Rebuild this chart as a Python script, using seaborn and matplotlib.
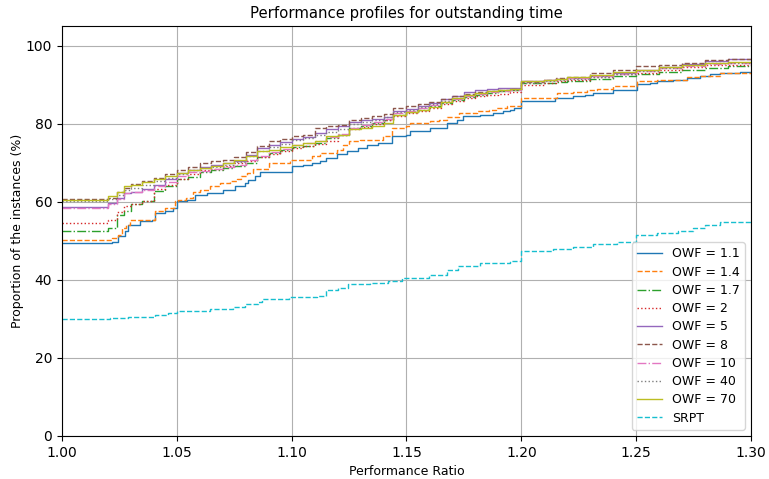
import matplotlib
matplotlib.use("Agg")
import matplotlib.pyplot as plt
import seaborn as sns
import pandas as pd

# ---- data -------------------------------------------------------------
blue_x = [1.000, 1.0216, 1.0244, 1.0274, 1.0289, 1.034, 1.039, 1.0405, 1.0448, 1.0484,
          1.050, 1.0543, 1.058, 1.063, 1.070, 1.0753, 1.0797, 1.081, 1.084, 1.086,
          1.100, 1.105, 1.1087, 1.1124, 1.115, 1.1196, 1.124, 1.129, 1.133, 1.1376,
          1.1435, 1.150, 1.1515, 1.1603, 1.1675, 1.172, 1.1746, 1.182, 1.1877, 1.192,
          1.195, 1.197, 1.200, 1.2147, 1.2225, 1.2277, 1.231, 1.240, 1.2502, 1.256,
          1.259, 1.266, 1.272, 1.278, 1.282, 1.2865, 1.295, 1.300]
blue_y = [49.4, 49.8, 51.1, 52.4, 54.1, 55.0, 55.4, 57.1, 57.5, 58.4,
          60.1, 60.5, 61.8, 62.2, 63.1, 63.9, 64.8, 65.6, 66.5, 67.6,
          69.1, 69.5, 69.9, 70.3, 71.2, 72.1, 72.9, 73.8, 74.4, 75.0,
          76.8, 77.2, 78.0, 78.9, 80.2, 81.0, 81.9, 82.3, 82.7, 83.2,
          83.6, 84.0, 85.7, 86.6, 87.0, 87.4, 87.8, 88.7, 90.2, 90.4,
          90.9, 91.3, 91.7, 92.1, 92.6, 93.0, 93.2, 93.2]

orange_x = [1.000, 1.0216, 1.0244, 1.026, 1.028, 1.0296, 1.0405, 1.0448, 1.049, 1.0507,
            1.054, 1.057, 1.060, 1.0645, 1.069, 1.073, 1.076, 1.078, 1.0804, 1.083,
            1.090, 1.0993, 1.1087, 1.1124, 1.1196, 1.1225, 1.125, 1.1298, 1.1398, 1.1436,
            1.150, 1.1515, 1.1603, 1.164, 1.1675, 1.173, 1.1806, 1.186, 1.189, 1.1936,
            1.200, 1.2154, 1.2225, 1.2285, 1.2328, 1.2399, 1.2502, 1.259, 1.272, 1.278,
            1.2865, 1.300]
orange_y = [50.3, 50.7, 51.5, 53.2, 54.1, 55.4, 57.5, 58.4, 60.1, 60.5,
            60.9, 62.6, 63.1, 63.9, 64.8, 65.2, 65.8, 66.5, 67.4, 68.4,
            69.8, 70.8, 71.6, 72.5, 73.3, 74.6, 75.5, 75.9, 76.8, 78.9,
            79.3, 80.2, 80.6, 81.0, 81.7, 82.7, 83.2, 83.6, 84.0, 84.4,
            86.6, 87.8, 88.1, 88.7, 88.9, 89.6, 90.9, 91.3, 91.9, 92.3,
            93.0, 93.2]

srpt_x = [1.000, 1.021, 1.0287, 1.0405, 1.046, 1.050, 1.0644, 1.0745, 1.0797, 1.0853,
          1.087, 1.099, 1.111, 1.115, 1.120, 1.1245, 1.134, 1.142, 1.148, 1.160,
          1.1676, 1.1725, 1.182, 1.195, 1.200, 1.2138, 1.2225, 1.231, 1.2416, 1.250,
          1.259, 1.268, 1.2747, 1.280, 1.2865, 1.300]
srpt_y = [30.0, 30.2, 30.6, 31.0, 31.5, 32.1, 32.5, 33.0, 33.8, 34.4,
          35.0, 35.5, 35.9, 37.3, 38.0, 38.8, 39.3, 39.8, 40.5, 41.3,
          42.6, 43.6, 44.3, 44.9, 47.4, 47.9, 48.4, 49.1, 49.7, 51.6,
          52.1, 52.6, 53.2, 54.1, 54.9, 55.0]

grid_x = [1.000, 1.020, 1.024, 1.027, 1.030, 1.035, 1.040, 1.045, 1.050, 1.055,
          1.060, 1.065, 1.070, 1.075, 1.080, 1.085, 1.090, 1.095, 1.100, 1.105,
          1.110, 1.115, 1.120, 1.125, 1.130, 1.135, 1.140, 1.144, 1.150, 1.155,
          1.160, 1.165, 1.170, 1.175, 1.180, 1.185, 1.190, 1.195, 1.200, 1.210,
          1.215, 1.220, 1.230, 1.240, 1.250, 1.260, 1.270, 1.280, 1.290, 1.300]

green_y = [52.6, 53.2, 56.5, 57.5, 59.4, 60.3, 62.8, 63.9, 65.8, 66.3,
           67.6, 68.0, 68.6, 69.2, 70.0, 71.5, 72.5, 73.2, 74.0, 74.3,
           75.0, 76.3, 77.0, 78.9, 79.5, 80.2, 81.0, 82.3, 82.9, 83.6,
           84.4, 85.2, 86.0, 86.8, 87.3, 87.8, 88.3, 88.5, 90.3, 90.5,
           90.7, 91.0, 91.5, 92.2, 92.8, 93.3, 93.8, 94.3, 94.7, 94.9]
red_y = [54.5, 55.4, 57.3, 58.8, 59.4, 60.3, 63.3, 64.3, 65.8, 67.0,
         68.0, 68.4, 69.1, 69.8, 70.5, 71.5, 72.3, 73.0, 73.8, 74.3,
         74.8, 75.5, 77.0, 78.5, 79.2, 80.0, 80.8, 81.9, 82.6, 83.3,
         84.0, 85.0, 85.8, 86.5, 87.0, 87.4, 87.7, 88.0, 90.0, 90.4,
         90.8, 91.3, 92.0, 92.6, 93.0, 93.8, 94.4, 94.9, 95.1, 95.3]
purple_y = [58.6, 59.6, 60.9, 62.2, 62.4, 63.3, 64.4, 65.8, 67.4, 68.2,
            68.8, 69.3, 69.8, 70.5, 72.0, 73.8, 74.6, 75.2, 76.1, 76.5,
            77.5, 78.5, 79.3, 80.3, 80.8, 81.2, 81.6, 83.2, 83.8, 84.6,
            85.4, 86.2, 87.0, 88.0, 88.5, 88.8, 89.1, 89.2, 90.9, 91.2,
            91.5, 91.8, 92.3, 93.0, 93.8, 94.5, 95.3, 96.0, 96.5, 96.6]
brown_y = [60.6, 61.0, 62.6, 63.5, 64.6, 65.2, 66.0, 67.0, 68.2, 69.0,
           69.9, 70.3, 70.8, 71.5, 72.8, 74.2, 75.5, 76.1, 76.8, 77.2,
           78.9, 79.3, 79.7, 81.0, 81.4, 81.9, 82.5, 84.0, 84.4, 85.0,
           85.5, 86.3, 87.2, 87.6, 88.0, 88.4, 88.7, 88.9, 90.6, 91.2,
           91.6, 92.0, 93.0, 93.8, 94.7, 95.0, 95.5, 96.2, 96.6, 96.6]
pink_y = [58.5, 59.5, 60.6, 62.2, 62.4, 63.1, 64.0, 65.0, 66.5, 67.6,
          67.9, 68.3, 68.8, 69.5, 70.8, 71.8, 72.8, 73.6, 74.6, 75.0,
          75.6, 76.5, 77.3, 78.8, 79.6, 80.4, 81.2, 82.6, 83.2, 84.0,
          84.8, 85.6, 86.4, 87.2, 87.7, 88.0, 88.3, 88.5, 91.0, 91.2,
          91.5, 91.8, 92.2, 92.8, 93.5, 94.2, 94.8, 95.3, 95.5, 95.6]
gray_y = [60.2, 60.8, 61.8, 63.0, 63.6, 64.3, 65.2, 66.0, 67.0, 68.0,
          68.6, 69.0, 69.5, 70.2, 71.8, 73.0, 74.0, 74.8, 75.8, 76.3,
          77.0, 77.8, 78.6, 79.8, 80.4, 81.0, 81.6, 83.0, 83.5, 84.2,
          85.0, 85.8, 86.6, 87.4, 87.9, 88.3, 88.6, 88.8, 90.4, 90.8,
          91.2, 91.5, 92.0, 92.7, 93.5, 94.3, 94.9, 95.4, 95.6, 95.6]
olive_y = [60.5, 61.4, 62.6, 64.0, 64.4, 65.0, 65.8, 66.5, 67.4, 68.2,
           68.6, 69.1, 69.9, 70.8, 71.6, 72.9, 73.3, 74.0, 74.6, 75.0,
           75.5, 76.8, 77.2, 78.5, 79.0, 79.3, 80.2, 82.3, 82.9, 83.6,
           84.3, 85.5, 86.5, 87.3, 87.9, 88.3, 88.7, 88.9, 90.9, 91.2,
           91.5, 91.9, 92.4, 93.1, 93.8, 94.5, 95.0, 95.5, 95.8, 95.9]

labels = ["OWF = 1.1", "OWF = 1.4", "OWF = 1.7", "OWF = 2", "OWF = 5",
          "OWF = 8", "OWF = 10", "OWF = 40", "OWF = 70", "SRPT"]
series = [(blue_x, blue_y), (orange_x, orange_y), (grid_x, green_y), (grid_x, red_y),
          (grid_x, purple_y), (grid_x, brown_y), (grid_x, pink_y), (grid_x, gray_y),
          (grid_x, olive_y), (srpt_x, srpt_y)]

# ---- style ------------------------------------------------------------
colors = sns.color_palette("tab10", 10)
linestyles = ["-", "--", "-.", ":", "-", "--", "-.", ":", "-", "--"]

fig = plt.figure(figsize=(7.69, 4.79), dpi=100)
ax = fig.add_axes([0.0806, 0.0898, 0.8960, 0.8559])

for (xs, ys), lab, col, ls in zip(series, labels, colors, linestyles):
    df = pd.DataFrame({"x": xs, "y": ys})
    sns.lineplot(data=df, x="x", y="y", ax=ax, color=col, linestyle=ls,
                 linewidth=1.0, drawstyle="steps-post", label=lab,
                 estimator=None, sort=False)

ax.set_xlim(1.0, 1.3)
ax.set_ylim(0, 105)
ax.set_xticks([1.00, 1.05, 1.10, 1.15, 1.20, 1.25, 1.30])
ax.set_xticklabels(["1.00", "1.05", "1.10", "1.15", "1.20", "1.25", "1.30"])
ax.set_yticks([0, 20, 40, 60, 80, 100])
ax.grid(True, color="#b0b0b0", linewidth=0.8)
ax.set_axisbelow(True)
ax.set_xlabel("Performance Ratio", fontsize=9)
ax.set_ylabel("Proportion of the instances (%)", fontsize=9, labelpad=1.5)
ax.set_title("Performance profiles for outstanding time", fontsize=10.7)
ax.legend(loc="lower right", fontsize=9, labelspacing=0.42)

fig.savefig("out.png", dpi=100)
